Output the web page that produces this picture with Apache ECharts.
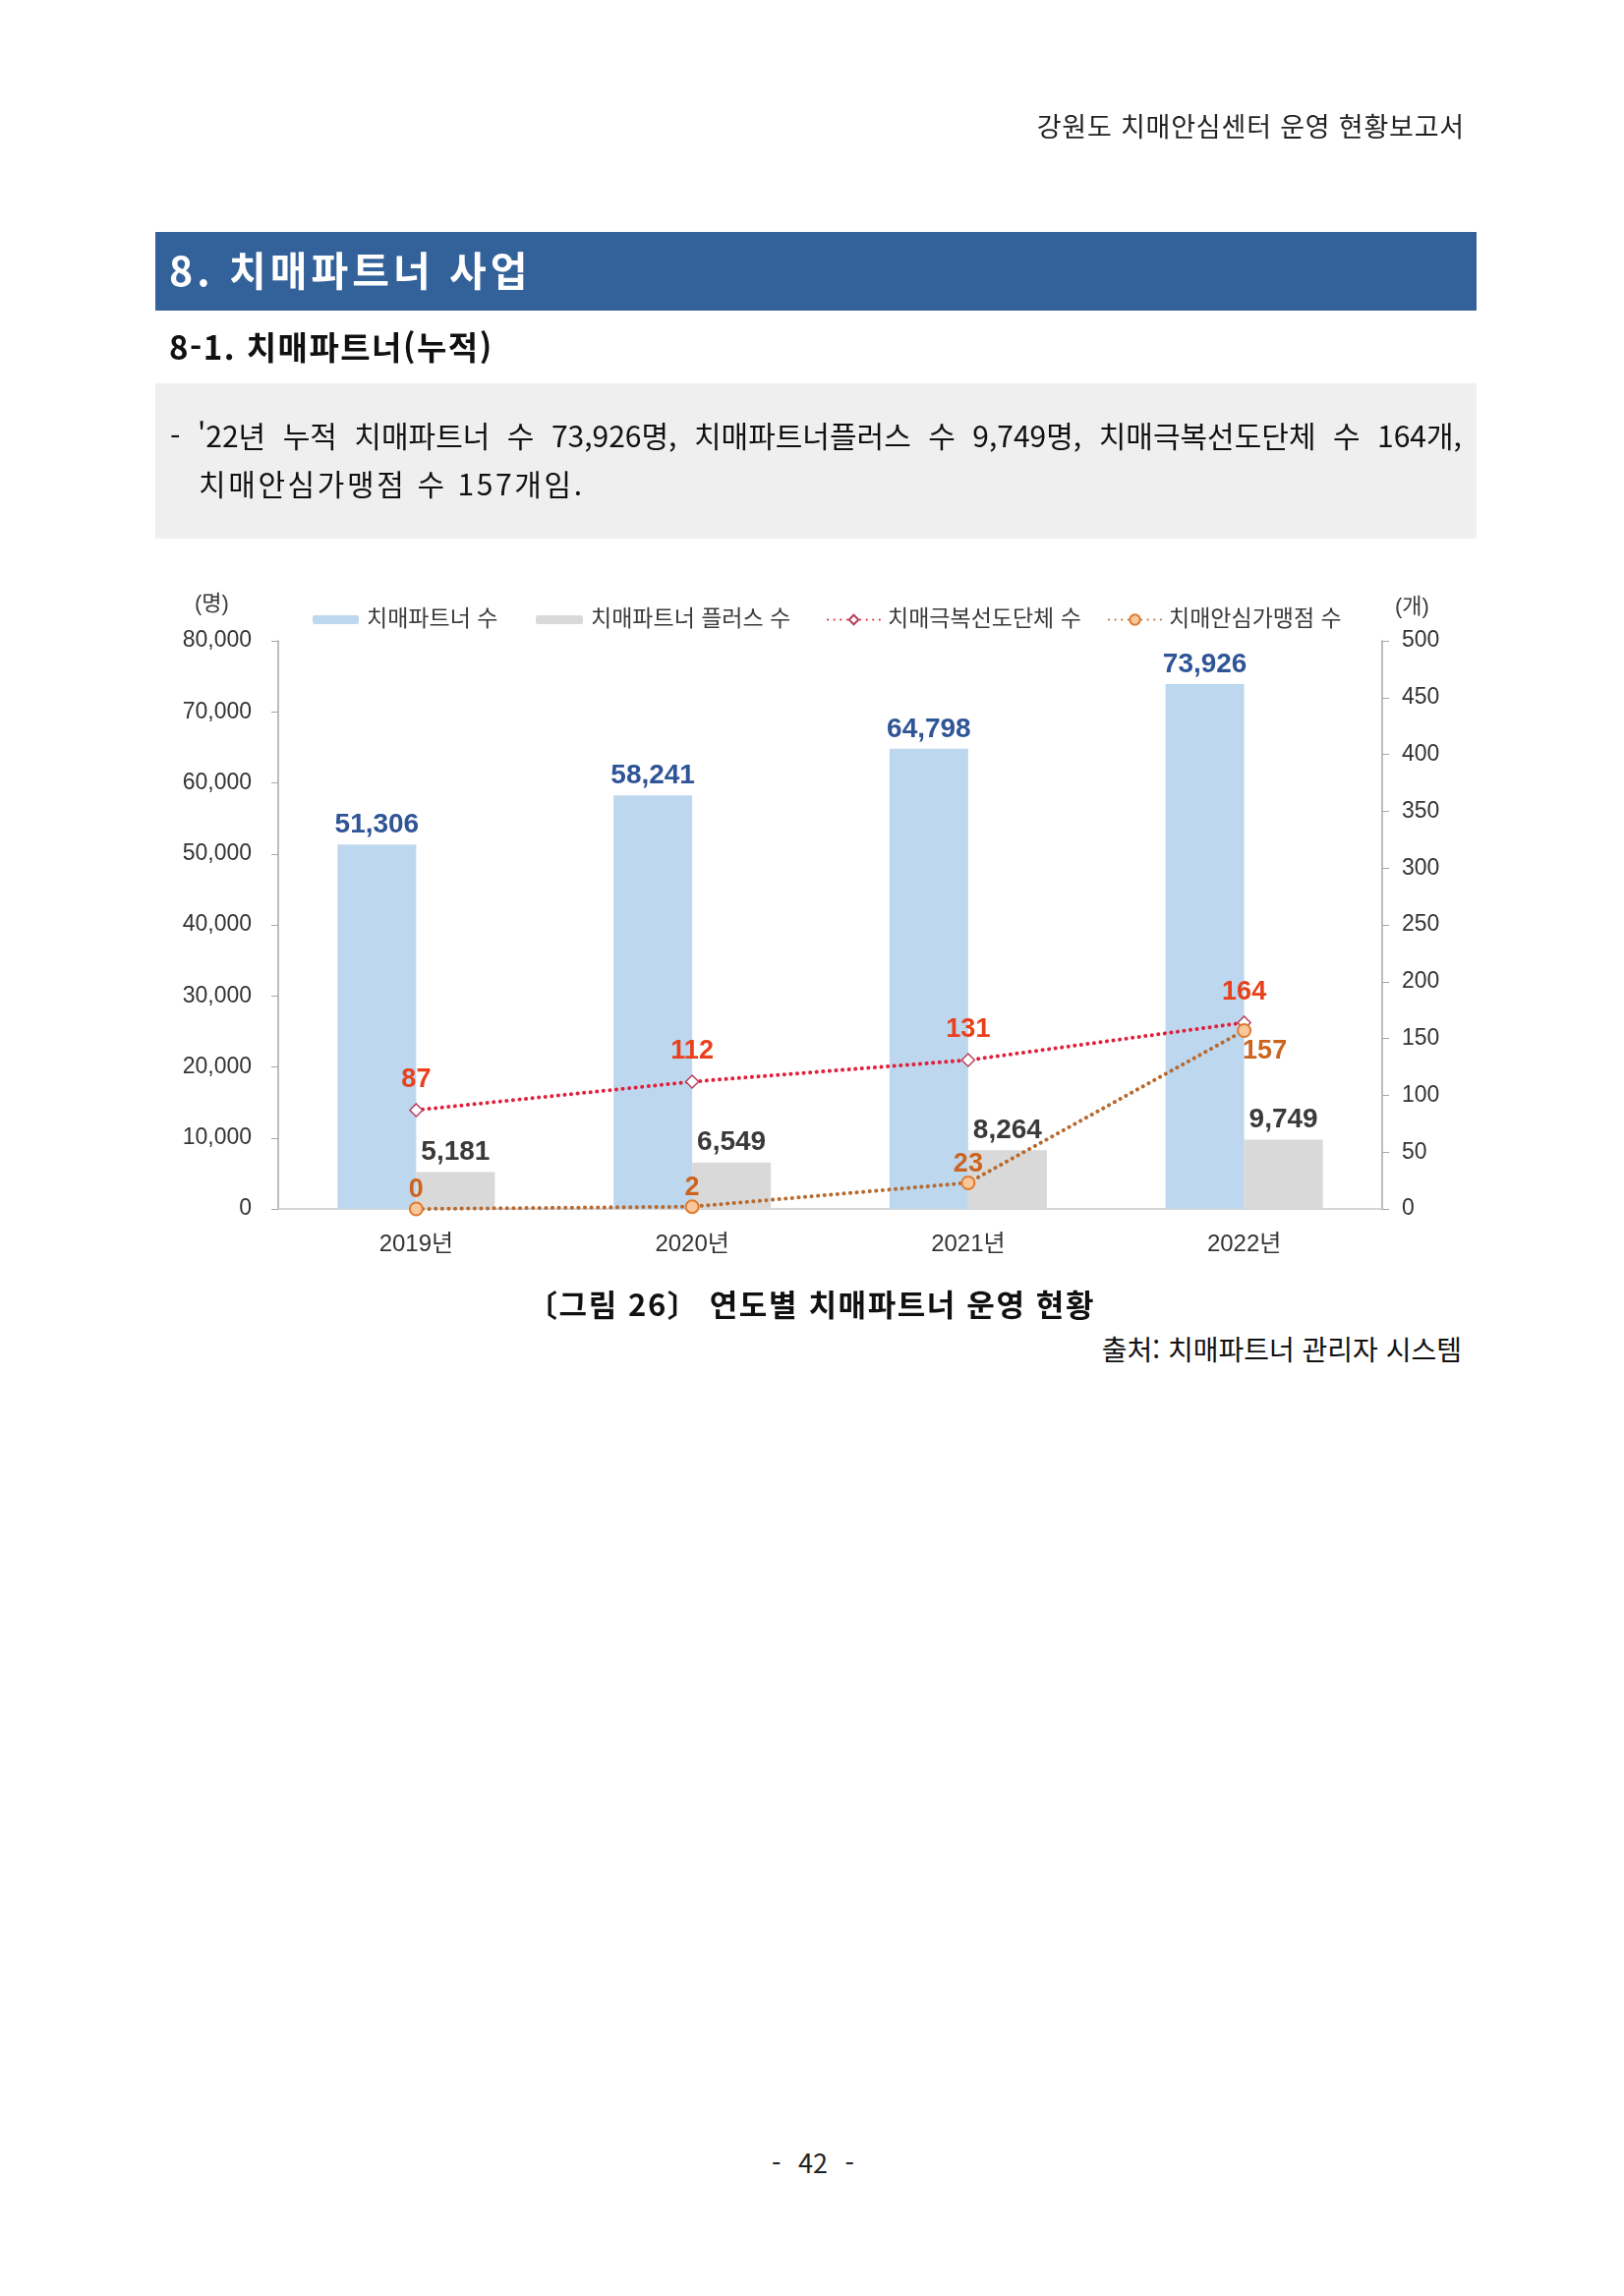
<!DOCTYPE html>
<html lang="ko">
<head>
<meta charset="utf-8">
<script src="https://cdn.jsdelivr.net/npm/echarts@6/dist/echarts.min.js"></script>
<style>
  html, body { margin: 0; padding: 0; background: #ffffff; }
  body { width: 1652px; height: 2336px; position: relative; overflow: hidden;
         font-family: "Noto Sans CJK KR", "Noto Sans", sans-serif; color: #1a1a1a; }
  .abs { position: absolute; white-space: nowrap; }
  #chart { position: absolute; left: 0; top: 0; width: 1652px; height: 1320px; z-index: 1; }
  .txt { z-index: 2; }
</style>
</head>
<body>
<div class="abs txt" style="right:162px; top:113px; font-size:27px; line-height:30px; letter-spacing:0.8px; color:#222;">강원도 치매안심센터 운영 현황보고서</div>

<div class="abs" style="left:158px; top:236px; width:1344px; height:80px; background:#336199;"></div>
<div class="abs txt" style="left:172px; top:236px; height:74px; line-height:74px; font-size:41px; font-weight:700; color:#ffffff; letter-spacing:4px;">8. 치매파트너 사업</div>

<div class="abs txt" style="left:172px; top:334px; font-size:33px; line-height:36px; font-weight:700; color:#111; letter-spacing:1.5px;">8-1. 치매파트너(누적)</div>

<div class="abs" style="left:158px; top:390px; width:1344px; height:158px; background:#efefef;"></div>
<div class="abs txt" style="left:173px; top:425px; width:1314px; font-size:30px; line-height:34px; color:#111; white-space:normal; text-align:justify; text-align-last:justify;">- '22년 누적 치매파트너 수 73,926명, 치매파트너플러스 수 9,749명, 치매극복선도단체 수 164개,</div>
<div class="abs txt" style="left:202px; top:474px; font-size:30px; line-height:34px; color:#111; letter-spacing:2.6px;">치매안심가맹점 수 157개임.</div>

<div id="chart"></div>

<div class="abs txt" style="left:325px; width:1000px; text-align:center; top:1309px; font-size:31px; line-height:34px; font-weight:700; color:#111; letter-spacing:1.6px;">〔그림 26〕 연도별 치매파트너 운영 현황</div>
<div class="abs txt" style="right:165px; top:1356px; font-size:28px; line-height:32px; color:#111;">출처: 치매파트너 관리자 시스템</div>
<div class="abs txt" style="left:327px; width:1000px; text-align:center; top:2185px; font-size:27px; line-height:30px; color:#222; word-spacing:10px;">- 42 -</div>

<script>
// ---- data ----
const categories = ['2019년', '2020년', '2021년', '2022년'];
const seriesNames = ['치매파트너 수', '치매파트너 플러스 수', '치매극복선도단체 수', '치매안심가맹점 수'];
const partners = [51306, 58241, 64798, 73926];
const partnersPlus = [5181, 6549, 8264, 9749];
const leaderGroups = [87, 112, 131, 164];
const safeStores = [0, 2, 23, 157];
const leftAxisUnit = '(명)';
const rightAxisUnit = '(개)';

const FONT = "'Liberation Sans', 'Noto Sans CJK KR', sans-serif";
const chart = echarts.init(document.getElementById('chart'), null, { renderer: 'canvas' });

const fmt = v => Number(v).toLocaleString('en-US');

const safeStoresData = safeStores.map((v, i) =>
  i === safeStores.length - 1
    ? { value: v, label: { position: 'bottom', distance: 0, offset: [21, 0] } }
    : v
);

function legendAt(name, left, w, h) {
  return {
    data: [name], left: left, top: 614, itemWidth: w, itemHeight: h,
    textStyle: { fontFamily: FONT, fontSize: 23, color: '#3a3a3a', padding: [0, 0, 0, 3] },
    selectedMode: false
  };
}

chart.setOption({
  animation: false,
  textStyle: { fontFamily: FONT },
  legend: [
    legendAt(seriesNames[0], 313, 47, 9),
    legendAt(seriesNames[1], 540, 48, 9),
    legendAt(seriesNames[2], 836, 53, 12),
    legendAt(seriesNames[3], 1122, 53, 13)
  ],
  graphic: [
    { type: 'text', left: 198, top: 604, style: { text: leftAxisUnit, font: "22px " + FONT, fill: '#3a3a3a' } },
    { type: 'text', left: 1419, top: 607, style: { text: rightAxisUnit, font: "22px " + FONT, fill: '#3a3a3a' } }
  ],
  grid: { left: 283, right: 246, top: 652, bottom: 90, containLabel: false },
  xAxis: {
    type: 'category',
    data: categories,
    axisLine: { lineStyle: { color: '#c8c8c8', width: 1.5 } },
    axisTick: { show: false },
    axisLabel: { fontSize: 24, color: '#333333', margin: 24, fontFamily: FONT }
  },
  yAxis: [
    {
      type: 'value', min: 0, max: 80000, interval: 10000,
      axisLine: { show: true, lineStyle: { color: '#a6a6a6', width: 1.5 } },
      axisTick: { show: true, length: 7, lineStyle: { color: '#a6a6a6' } },
      splitLine: { show: false },
      axisLabel: { fontSize: 23, color: '#333333', margin: 27, formatter: fmt, fontFamily: FONT }
    },
    {
      type: 'value', min: 0, max: 500, interval: 50, position: 'right',
      axisLine: { show: true, lineStyle: { color: '#a6a6a6', width: 1.5 } },
      axisTick: { show: true, length: 7, lineStyle: { color: '#a6a6a6' } },
      splitLine: { show: false },
      axisLabel: { fontSize: 23, color: '#333333', margin: 20, fontFamily: FONT }
    }
  ],
  series: [
    {
      name: seriesNames[0], type: 'bar', yAxisIndex: 0, data: partners,
      barWidth: 80, barGap: '0%',
      itemStyle: { color: '#bdd7ee' },
      label: { show: true, position: 'top', distance: 6, formatter: p => fmt(p.value),
               fontSize: 28, fontWeight: 'bold', color: '#2f5597', fontFamily: FONT }
    },
    {
      name: seriesNames[1], type: 'bar', yAxisIndex: 0, data: partnersPlus,
      barWidth: 80, barGap: '0%',
      itemStyle: { color: '#d9d9d9' },
      label: { show: true, position: 'top', distance: 6, formatter: p => fmt(p.value),
               fontSize: 28, fontWeight: 'bold', color: '#3a3a3a', fontFamily: FONT }
    },
    {
      name: seriesNames[2], type: 'line', yAxisIndex: 1, data: leaderGroups, z: 5,
      symbol: 'diamond', symbolSize: 13,
      lineStyle: { color: '#e0203c', width: 4, type: [0.1, 6.5], cap: 'round' },
      itemStyle: { color: '#ffffff', borderColor: '#b8405a', borderWidth: 1.5 },
      label: { show: true, position: 'top', distance: 10,
               fontSize: 27, fontWeight: 'bold', color: '#e8401c', fontFamily: FONT }
    },
    {
      name: seriesNames[3], type: 'line', yAxisIndex: 1, data: safeStoresData, z: 6,
      symbol: 'circle', symbolSize: 13,
      lineStyle: { color: '#b86a30', width: 4, type: [0.1, 6.5], cap: 'round' },
      itemStyle: { color: '#f8c79c', borderColor: '#e07a2e', borderWidth: 2 },
      label: { show: true, position: 'top', distance: -2,
               fontSize: 27, fontWeight: 'bold', color: '#cc6420', fontFamily: FONT }
    }
  ]
});
</script>
</body>
</html>
